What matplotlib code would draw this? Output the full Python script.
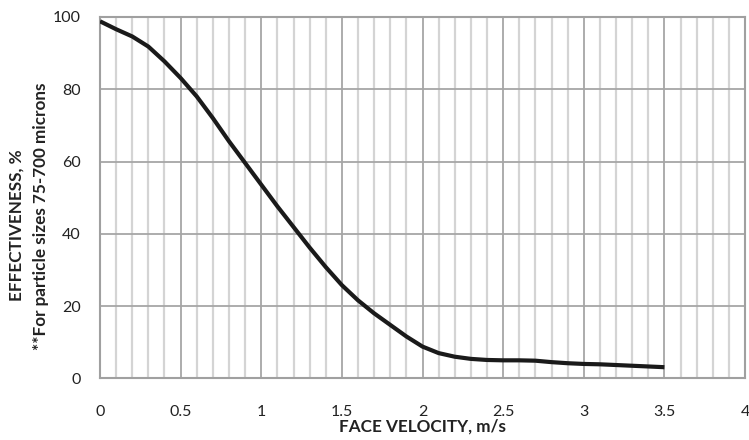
import matplotlib
matplotlib.use("Agg")
import matplotlib.pyplot as plt
from matplotlib.ticker import MultipleLocator

velocity = [0.0, 0.1, 0.2, 0.3, 0.4, 0.5, 0.6, 0.7, 0.8, 0.9, 1.0, 1.1, 1.2, 1.3, 1.4,
            1.5, 1.6, 1.7, 1.8, 1.9, 2.0, 2.1, 2.2, 2.3, 2.4, 2.5, 2.6, 2.7, 2.8, 2.9,
            3.0, 3.1, 3.2, 3.3, 3.4, 3.5]
effectiveness = [98.8, 96.6, 94.6, 91.8, 87.7, 83.1, 78.0, 72.0, 65.6, 59.6, 53.6, 47.6,
                 41.9, 36.2, 30.8, 25.8, 21.6, 18.0, 14.8, 11.6, 8.8, 7.0, 6.0, 5.4,
                 5.1, 5.0, 5.0, 4.9, 4.5, 4.2, 4.0, 3.9, 3.7, 3.5, 3.3, 3.1]
xticks = [0, 0.5, 1, 1.5, 2, 2.5, 3, 3.5, 4]
xticklabels = ["0", "0.5", "1", "1.5", "2", "2.5", "3", "3.5", "4"]
yticks = [0, 20, 40, 60, 80, 100]

plt.rcParams['font.family'] = ['Lato', 'DejaVu Sans']

fig = plt.figure(figsize=(7.49, 4.40), dpi=100)
ax = fig.add_axes([0.1335, 0.140, 0.8612, 0.8215])

ax.set_xlim(0, 4)
ax.set_ylim(0, 100)
ax.set_xticks(xticks)
ax.set_xticklabels(xticklabels)
ax.set_yticks(yticks)
ax.xaxis.set_minor_locator(MultipleLocator(0.1))

ax.grid(which='minor', axis='x', color='#d4d4d4', linewidth=1.6, zorder=0)
ax.grid(which='major', axis='x', color='#a6a6a6', linewidth=1.3, zorder=0)
ax.grid(which='major', axis='y', color='#a6a6a6', linewidth=1.3, zorder=0)
ax.set_axisbelow(True)

for s in ax.spines.values():
    s.set_color('#a0a0a0')
    s.set_linewidth(1.5)

ax.tick_params(which='both', length=0, labelsize=11.5, colors='#222222')
ax.tick_params(axis='x', pad=19)
ax.tick_params(axis='y', pad=14)

ax.plot(velocity, effectiveness, color='#1a1a1a', linewidth=3.0,
        solid_capstyle='butt', solid_joinstyle='round', zorder=3)

ax.set_xlabel("FACE VELOCITY, m/s", fontsize=12.3, fontweight='bold',
              color='#222222', labelpad=0)
fig.text(0.022, 0.489, "EFFECTIVENESS, %", rotation=90, ha='center', va='center',
         fontsize=12.3, fontweight='bold', color='#222222')
fig.text(0.0554, 0.509, "**For particle sizes 75-700 microns", rotation=90,
         ha='center', va='center', fontsize=12.3, fontweight='bold', color='#222222')

fig.savefig("out.png", dpi=100)
